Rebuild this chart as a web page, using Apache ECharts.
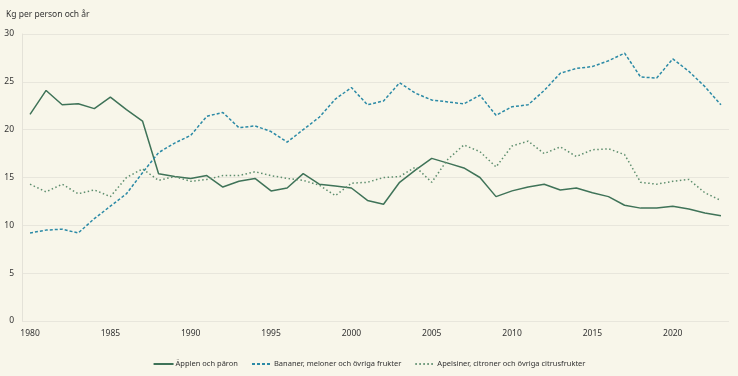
<!DOCTYPE html>
<html>
<head>
<meta charset="utf-8">
<script src="https://cdn.jsdelivr.net/npm/echarts@6/dist/echarts.min.js"></script>
<style>
  html, body { margin: 0; padding: 0; background: #f8f6ea; }
  #chart { width: 738px; height: 376px; }
</style>
</head>
<body>
<div id="chart"></div>
<script>
var years = [];
for (var y = 1980; y <= 2023; y++) years.push(String(y));

// Äpplen och päron
var applen = [21.6, 24.1, 22.6, 22.7, 22.2, 23.4, 22.1, 20.9, 15.4, 15.1,
  14.9, 15.2, 14.0, 14.6, 14.9, 13.6, 13.9, 15.4, 14.3, 14.1,
  13.9, 12.6, 12.2, 14.5, 15.8, 17.0, 16.5, 16.0, 15.0, 13.0,
  13.6, 14.0, 14.3, 13.7, 13.9, 13.4, 13.0, 12.1, 11.8, 11.8,
  12.0, 11.7, 11.3, 11.0];
// Bananer, meloner och övriga frukter
var bananer = [9.2, 9.5, 9.6, 9.2, 10.7, 12.0, 13.3, 15.5, 17.6, 18.6,
  19.4, 21.4, 21.8, 20.2, 20.4, 19.8, 18.7, 20.0, 21.3, 23.2,
  24.4, 22.6, 23.0, 24.9, 23.8, 23.1, 22.9, 22.7, 23.6, 21.5,
  22.4, 22.6, 24.1, 25.9, 26.4, 26.6, 27.2, 28.0, 25.5, 25.4,
  27.4, 26.1, 24.5, 22.6];
// Apelsiner, citroner och övriga citrusfrukter
var apelsiner = [14.3, 13.5, 14.3, 13.3, 13.7, 13.0, 15.0, 15.9, 14.7, 15.1,
  14.6, 14.8, 15.2, 15.2, 15.6, 15.2, 14.9, 14.7, 14.2, 13.1,
  14.4, 14.5, 15.0, 15.1, 16.1, 14.5, 16.9, 18.4, 17.7, 16.1,
  18.3, 18.8, 17.5, 18.2, 17.2, 17.9, 18.0, 17.4, 14.5, 14.3,
  14.6, 14.8, 13.4, 12.6];

var font = '"Noto Sans", "Open Sans", sans-serif';
var chart = echarts.init(document.getElementById('chart'));

var option = {
  backgroundColor: '#f8f6ea',
  animation: false,
  textStyle: { fontFamily: font },
  title: {
    text: 'Kg per person och år',
    left: 1,
    top: 5,
    textStyle: { fontSize: 8.5, fontWeight: 'normal', color: '#333', fontFamily: font }
  },
  legend: {
    bottom: 3,
    left: 'center',
    itemWidth: 20,
    itemHeight: 8,
    itemGap: 13,
    itemStyle: { opacity: 0 },
    textStyle: { fontSize: 7.5, color: '#333', fontFamily: font, padding: [0, 0, 0, -3] },
    data: ['Äpplen och päron', 'Bananer, meloner och övriga frukter', 'Apelsiner, citroner och övriga citrusfrukter']
  },
  grid: { left: 22, right: 9, top: 34, bottom: 55 },
  xAxis: {
    type: 'category',
    data: years,
    boundaryGap: true,
    axisLine: { show: false },
    axisTick: { show: false },
    axisLabel: { interval: 4, fontSize: 8.5, color: '#333', margin: 8, fontFamily: font }
  },
  yAxis: {
    type: 'value',
    min: 0,
    max: 30,
    interval: 5,
    axisLine: { show: true, lineStyle: { color: '#e4e2d8' } },
    axisTick: { show: false },
    axisLabel: { fontSize: 8.5, color: '#333', margin: 8, fontFamily: font },
    splitLine: { lineStyle: { color: '#e8e6dc', width: 1.2 } }
  },
  series: [
    {
      name: 'Äpplen och päron',
      type: 'line',
      data: applen,
      symbol: 'none',
      color: '#3f7358',
      lineStyle: { width: 1.5, color: '#3f7358' }
    },
    {
      name: 'Bananer, meloner och övriga frukter',
      type: 'line',
      data: bananer,
      symbol: 'none',
      color: '#2b8aa6',
      lineStyle: { width: 1.5, color: '#2b8aa6', type: [3, 2] }
    },
    {
      name: 'Apelsiner, citroner och övriga citrusfrukter',
      type: 'line',
      data: apelsiner,
      symbol: 'none',
      color: '#5e8e6e',
      lineStyle: { width: 1.5, color: '#5e8e6e', type: [1.5, 2.5] }
    }
  ]
};

chart.setOption(option);
</script>
</body>
</html>
